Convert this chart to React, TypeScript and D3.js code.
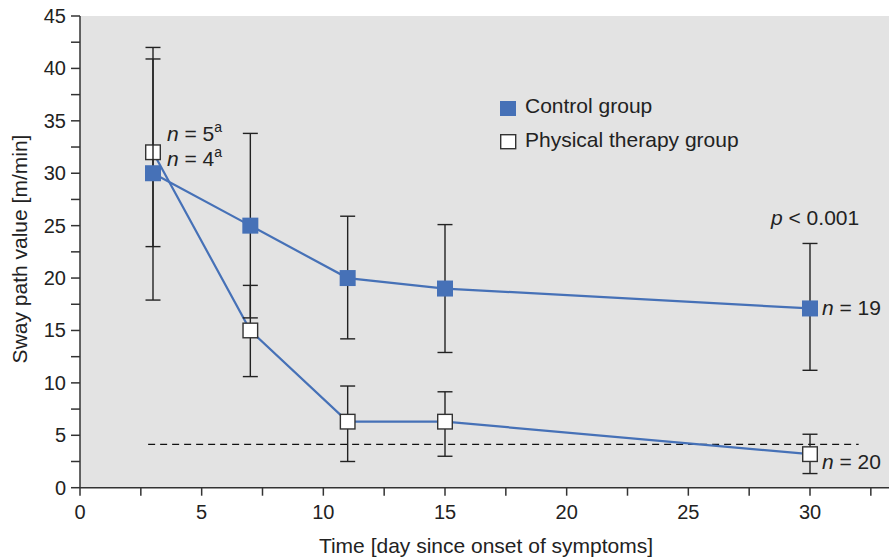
import React from 'react'
import * as d3 from 'd3'

const WIDTH = 889
const HEIGHT = 559
const MARGIN = { top: 16, right: 0, bottom: 71, left: 80 }

// days since onset of symptoms
const days = [3, 7, 11, 15, 30]
const controlMean = [30, 25, 20, 19, 17.1]
const controlLow = [17.9, 16.2, 14.2, 12.9, 11.2]
const controlHigh = [42, 33.8, 25.9, 25.1, 23.3]
const therapyMean = [32, 15, 6.3, 6.3, 3.2]
const therapyLow = [23, 10.6, 2.5, 3.0, 1.35]
const therapyHigh = [40.9, 19.3, 9.7, 9.15, 5.1]
const xTickValues = [0, 5, 10, 15, 20, 25, 30]
const xMinorTicks = [2.5, 7.5, 12.5, 17.5, 22.5, 27.5, 32.5]
const yTickValues = [0, 5, 10, 15, 20, 25, 30, 35, 40, 45]
const yMinorTicks = [2.5, 7.5, 12.5, 17.5, 22.5, 27.5, 32.5, 37.5, 42.5]
const referenceLevel = 4.13
const referenceSpan = [2.8, 32]

const FONT = 'Liberation Sans, Arial, sans-serif'
const BLUE = '#4671b7'
const INK = '#222'
const AXIS = '#333'
const TICK_FS = 20
const TEXT_FS = 21

const x = d3.scaleLinear().domain([0, 30]).range([MARGIN.left, 810])
const y = d3.scaleLinear().domain([0, 45]).range([HEIGHT - MARGIN.bottom - 0.3, MARGIN.top])

const line = d3
  .line<number>()
  .x((d, i) => x(days[i]))
  .y(d => y(d))

const SQ = 16

const Series = ({ mean, low, high, filled }: { mean: number[]; low: number[]; high: number[]; filled: boolean }) => (
  <g>
    <path d={line(mean) || ''} fill="none" stroke={BLUE} strokeWidth={2.2} />
    {days.map((d, i) => (
      <g key={'e' + i} stroke={INK} strokeWidth={1.4}>
        <line x1={x(d)} x2={x(d)} y1={y(low[i])} y2={y(high[i])} />
        <line x1={x(d) - 7.5} x2={x(d) + 7.5} y1={y(low[i])} y2={y(low[i])} />
        <line x1={x(d) - 7.5} x2={x(d) + 7.5} y1={y(high[i])} y2={y(high[i])} />
      </g>
    ))}
    {days.map((d, i) =>
      filled ? (
        <rect key={'m' + i} x={x(d) - SQ / 2} y={y(mean[i]) - SQ / 2} width={SQ} height={SQ} fill={BLUE} />
      ) : (
        <rect
          key={'m' + i}
          x={x(d) - SQ / 2 + 0.7}
          y={y(mean[i]) - SQ / 2 + 0.7}
          width={SQ - 1.4}
          height={SQ - 1.4}
          fill="#fff"
          stroke="#333"
          strokeWidth={1.4}
        />
      )
    )}
  </g>
)

const App = () => {
  const y0 = y(0)
  return (
    <svg
      width={WIDTH}
      height={HEIGHT}
      style={{ position: 'absolute', left: 0, top: 0, background: '#fff' }}
      fontFamily={FONT}
    >
      <rect x={MARGIN.left} y={MARGIN.top} width={WIDTH - MARGIN.left} height={y0 - MARGIN.top} fill="#e3e3e3" />

      {/* dashed reference line */}
      <line
        x1={x(referenceSpan[0])}
        x2={x(referenceSpan[1])}
        y1={y(referenceLevel)}
        y2={y(referenceLevel)}
        stroke="#111"
        strokeWidth={1.3}
        strokeDasharray="7,5"
      />

      <Series mean={therapyMean} low={therapyLow} high={therapyHigh} filled={false} />
      <Series mean={controlMean} low={controlLow} high={controlHigh} filled={true} />

      {/* axes */}
      <g stroke={AXIS} strokeWidth={1.5}>
        <line x1={MARGIN.left} x2={MARGIN.left} y1={MARGIN.top} y2={y0} />
        <line x1={MARGIN.left} x2={WIDTH} y1={y0} y2={y0} />
        {[...yTickValues, ...yMinorTicks].map(t => (
          <line key={'yt' + t} x1={MARGIN.left - 9} x2={MARGIN.left} y1={y(t)} y2={y(t)} />
        ))}
        {[...xTickValues, ...xMinorTicks].map(t => (
          <line key={'xt' + t} x1={x(t)} x2={x(t)} y1={y0} y2={y0 + 8} />
        ))}
      </g>
      <g fontSize={TICK_FS} fill={INK}>
        {yTickValues.map(t => (
          <text key={'yl' + t} x={MARGIN.left - 14} y={y(t) + 7} textAnchor="end">
            {t}
          </text>
        ))}
        {xTickValues.map(t => (
          <text key={'xl' + t} x={x(t)} y={y0 + 31} textAnchor="middle">
            {t}
          </text>
        ))}
      </g>
      <g fontSize={TEXT_FS} fill={INK}>
        <text x={486} y={553} textAnchor="middle">
          Time [day since onset of symptoms]
        </text>
        <text transform="translate(27,249) rotate(-90)" textAnchor="middle">
          Sway path value [m/min]
        </text>
      </g>

      {/* legend */}
      <g fontSize={TEXT_FS} fill={INK}>
        <rect x={500} y={101} width={16} height={15} fill={BLUE} />
        <text x={525} y={113}>Control group</text>
        <rect x={500.7} y={134.7} width={15} height={14} fill="#fff" stroke="#333" strokeWidth={1.4} />
        <text x={525} y={147}>Physical therapy group</text>
      </g>

      {/* annotations */}
      <g fontSize={TEXT_FS} fill={INK}>
        <text x={167} y={141}>
          <tspan fontStyle="italic">n</tspan> = 5<tspan fontSize={14} dy={-9}>a</tspan>
        </text>
        <text x={167} y={166}>
          <tspan fontStyle="italic">n</tspan> = 4<tspan fontSize={14} dy={-9}>a</tspan>
        </text>
        <text x={771} y={225}>
          <tspan fontStyle="italic">p</tspan> &lt; 0.001
        </text>
        <text x={822} y={315}>
          <tspan fontStyle="italic">n</tspan> = 19
        </text>
        <text x={822} y={469}>
          <tspan fontStyle="italic">n</tspan> = 20
        </text>
      </g>
    </svg>
  )
}

export default App
